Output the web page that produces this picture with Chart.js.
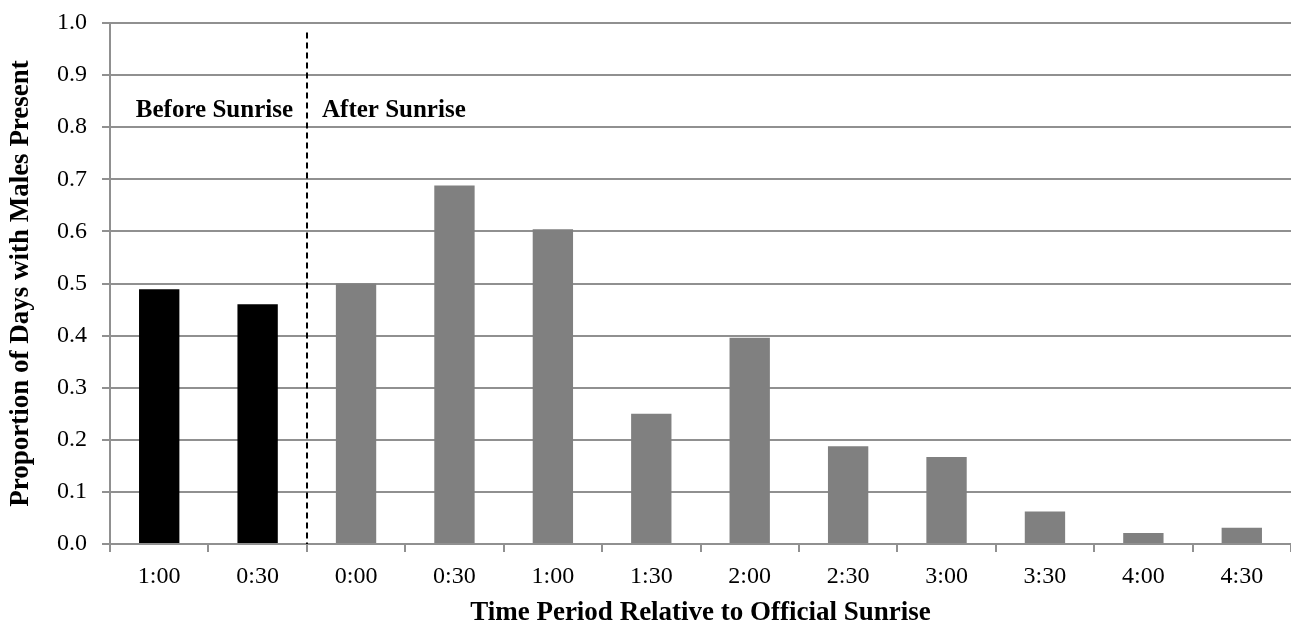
<!DOCTYPE html>
<html>
<head>
<meta charset="utf-8">
<script src="https://cdn.jsdelivr.net/npm/chart.js@4"></script>
<style>
  html, body { margin: 0; padding: 0; background: #fff; }
  #wrap { width: 1291px; height: 627px; }
</style>
</head>
<body>
<div id="wrap"><canvas id="chart" width="1291" height="627"></canvas></div>
<script>
// categories (time relative to sunrise)
const periods = ['1:00', '0:30', '0:00', '0:30', '1:00', '1:30', '2:00', '2:30', '3:00', '3:30', '4:00', '4:30'];
// proportion of days with males present
const proportions = [0.489, 0.46, 0.5, 0.688, 0.604, 0.25, 0.396, 0.1875, 0.167, 0.0625, 0.021, 0.031];
// first two periods are before sunrise
const beforeCount = 2;
const yTicks = [0, 0.1, 0.2, 0.3, 0.4, 0.5, 0.6, 0.7, 0.8, 0.9, 1.0];
const sectionLabels = ['Before Sunrise', 'After Sunrise'];

const FONT = "'Liberation Serif', 'Times New Roman', serif";
const GRID = '#909090';

const barColors = periods.map((p, i) => i < beforeCount ? '#000000' : '#808080');

// dashed divider + section labels
const sunrisePlugin = {
    id: 'sunrise',
    afterDatasetsDraw(chart) {
        const x = chart.scales.x, y = chart.scales.y;
        const ctx = chart.ctx;
        const xd = Math.round((x.getPixelForTick(beforeCount - 1) + x.getPixelForTick(beforeCount)) / 2);
        ctx.save();
        ctx.strokeStyle = '#000';
        ctx.lineWidth = 2;
        ctx.setLineDash([6, 4]);
        ctx.beginPath();
        ctx.moveTo(xd, y.getPixelForValue(0.982));
        ctx.lineTo(xd, y.getPixelForValue(0));
        ctx.stroke();
        ctx.setLineDash([]);
        ctx.fillStyle = '#000';
        ctx.font = "bold 25px " + FONT;
        ctx.textBaseline = 'alphabetic';
        const ty = y.getPixelForValue(0.82);
        ctx.textAlign = 'right';
        ctx.fillText(sectionLabels[0], xd - 14, ty);
        ctx.textAlign = 'left';
        ctx.fillText(sectionLabels[1], xd + 15, ty);
        ctx.restore();
    }
};

const ctx = document.getElementById('chart').getContext('2d');
new Chart(ctx, {
    type: 'bar',
    data: {
        labels: periods,
        datasets: [{
            data: proportions,
            backgroundColor: barColors,
            borderWidth: 0,
            categoryPercentage: 1,
            barPercentage: 0.41
        }]
    },
    options: {
        responsive: false,
        animation: false,
        devicePixelRatio: 1,
        layout: { padding: { top: 23, left: 0, right: 0, bottom: 0 } },
        plugins: {
            legend: { display: false },
            tooltip: { enabled: false }
        },
        scales: {
            x: {
                grid: {
                    display: true,
                    offset: true,
                    drawOnChartArea: false,
                    drawTicks: true,
                    tickLength: 8,
                    color: GRID,
                    lineWidth: 2
                },
                border: { display: true, color: GRID, width: 2 },
                ticks: {
                    color: '#000',
                    font: { family: FONT, size: 24 },
                    padding: 10,
                    maxRotation: 0,
                    autoSkip: false
                },
                title: {
                    display: true,
                    text: 'Time Period Relative to Official Sunrise',
                    color: '#000',
                    font: { family: FONT, size: 27, weight: 'bold' },
                    padding: { top: 0, bottom: -2 }
                },
                afterFit(scale) {
                    scale.height = 83;
                    scale.paddingLeft = 0;
                    scale.paddingRight = 0;
                }
            },
            y: {
                min: 0,
                max: 1,
                afterBuildTicks(scale) { scale.ticks = yTicks.map(v => ({ value: v })); },
                grid: {
                    color: GRID,
                    lineWidth: 2,
                    tickLength: 8,
                    drawTicks: true
                },
                border: { display: true, color: GRID, width: 2 },
                ticks: {
                    color: '#000',
                    font: { family: FONT, size: 24 },
                    padding: 15,
                    callback: v => Number(v).toFixed(1)
                },
                title: {
                    display: true,
                    text: 'Proportion of Days with Males Present',
                    color: '#000',
                    font: { family: FONT, size: 27, weight: 'bold' },
                    padding: { top: 5, bottom: 0 }
                },
                afterFit(scale) {
                    scale.width = 110;
                    scale.paddingTop = 0;
                    scale.paddingBottom = 0;
                }
            }
        }
    },
    plugins: [sunrisePlugin]
});
</script>
</body>
</html>
